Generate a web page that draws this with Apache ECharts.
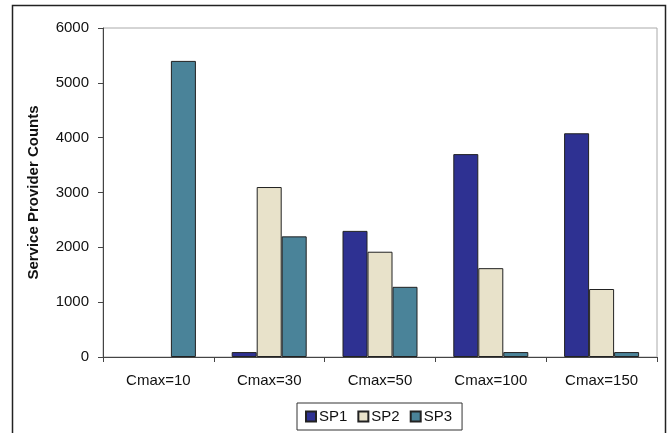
<!DOCTYPE html>
<html>
<head>
<meta charset="utf-8">
<script src="https://cdn.jsdelivr.net/npm/echarts@6/dist/echarts.min.js"></script>
<style>html,body{margin:0;padding:0;background:#fff;}#c{width:668px;height:433px;}</style>
</head>
<body>
<div id="c"></div>
<script>
var categories = ['Cmax=10', 'Cmax=30', 'Cmax=50', 'Cmax=100', 'Cmax=150'];
var sp1 = [0, 90, 2300, 3700, 4080];
var sp2 = [0, 3100, 1920, 1620, 1240];
var sp3 = [5400, 2200, 1280, 90, 90];
var seriesNames = ['SP1', 'SP2', 'SP3'];
var colors = ['#2E3192', '#E8E2CA', '#4A8399'];

var chart = echarts.init(document.getElementById('c'));
var font = 'Liberation Sans, Arial, sans-serif';
function bar(name, data, color) {
  return {
    name: name, type: 'bar', barWidth: 25, barGap: '0%',
    data: data.map(function (v) { return v === 0 ? { value: 0, itemStyle: { borderWidth: 0 } } : v; }),
    itemStyle: { color: color, borderColor: '#222', borderWidth: 1 },
    emphasis: { disabled: true }
  };
}
chart.setOption({
  animation: false,
  textStyle: { fontFamily: font },
  graphic: [{
    type: 'rect', shape: { x: 12.5, y: 5.5, width: 653, height: 460 },
    style: { fill: 'none', stroke: '#222', lineWidth: 1.5 }, z: -1
  }],
  grid: { left: 103, right: 11, top: 28, bottom: 76, show: true, borderColor: '#aaa', borderWidth: 1 },
  legend: {
    data: seriesNames, top: 403, left: 297,
    borderColor: '#333', borderWidth: 1, padding: [6, 10, 6, 8],
    itemWidth: 10, itemHeight: 10, itemGap: 10, icon: 'rect',
    textStyle: { fontSize: 15, color: '#111', fontFamily: font, padding: [0, 0, 0, -2] }
  },
  xAxis: {
    type: 'category', data: categories,
    axisLine: { lineStyle: { color: '#444', width: 1 } },
    axisTick: { show: true, length: 5, lineStyle: { color: '#444' } },
    axisLabel: { fontSize: 15, color: '#111', margin: 16, fontFamily: font }
  },
  yAxis: {
    type: 'value', min: 0, max: 6000, interval: 1000,
    name: 'Service Provider Counts', nameLocation: 'middle', nameGap: 62,
    nameTextStyle: { fontSize: 15, fontWeight: 'bold', color: '#111', fontFamily: font },
    axisLine: { show: true, lineStyle: { color: '#444', width: 1 } },
    axisTick: { show: true, length: 5, lineStyle: { color: '#444' } },
    axisLabel: { fontSize: 15, color: '#111', margin: 14, fontFamily: font, formatter: function (v) { return String(v); } },
    splitLine: { show: false }
  },
  series: [bar('SP1', sp1, colors[0]), bar('SP2', sp2, colors[1]), bar('SP3', sp3, colors[2])]
});
</script>
</body>
</html>
